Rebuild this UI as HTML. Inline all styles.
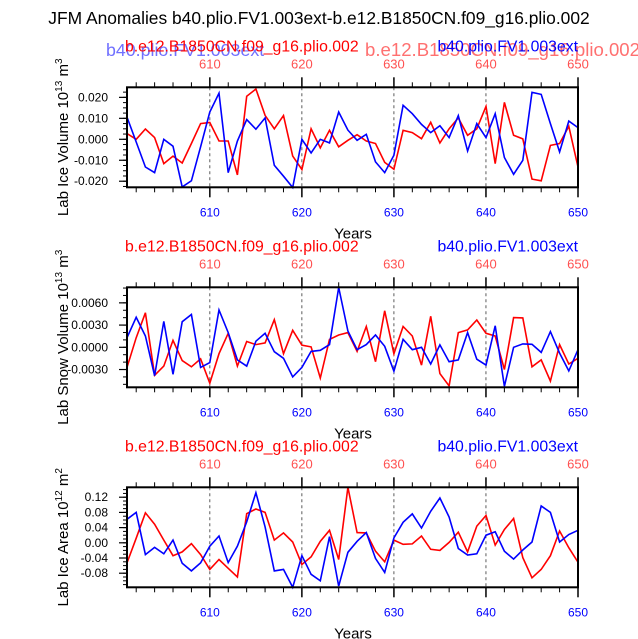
<!DOCTYPE html>
<html><head><meta charset="utf-8">
<style>
html,body{margin:0;padding:0;background:#fff;}
svg{display:block;font-family:"Liberation Sans",sans-serif;}
</style></head>
<body>
<svg id="chart" width="638" height="639" viewBox="0 0 638 639" xmlns="http://www.w3.org/2000/svg">
<text x="319" y="24" text-anchor="middle" font-size="17.4" fill="#000">JFM Anomalies b40.plio.FV1.003ext-b.e12.B1850CN.f09_g16.plio.002</text>
<text x="106" y="56" font-size="17.8" fill="#7070ff">b40.plio.FV1.003ext</text>
<text x="365" y="56" font-size="18.6" fill="#ff7070">b.e12.B1850CN.f09_g16.plio.002</text>
<g id="plots"></g>
</svg>
<script>
const years = [];
for (let y = 601; y <= 650; y++) years.push(y);

const iceVolBlue = [0.0106,-0.0013,-0.0132,-0.0159,0,-0.0033,-0.0227,-0.0198,-0.0036,0.013,0.022,-0.0159,-0.0008,0.0094,0.0048,0.0102,-0.0124,-0.0176,-0.023,0,-0.0065,0,-0.0017,0.013,0.0044,-0.0005,0.0024,-0.0108,-0.0159,-0.0076,0.0162,0.0122,0.0071,0.0032,0.0065,0.0008,0.0113,-0.0056,0.0075,0.0008,0.0122,-0.0087,-0.0167,-0.01,0.0224,0.0214,0.0075,-0.006,0.0087,0.0056];
const iceVolRed = [0.0027,0,0.0049,0.0008,-0.0116,-0.008,-0.0113,-0.002,0.0075,0.008,-0.0008,-0.0008,-0.017,0.0205,0.024,0.0114,0.005,0.0113,-0.008,-0.0144,0.005,-0.0041,0.0043,-0.0036,-0.0005,0.0022,-0.0008,-0.002,-0.011,-0.0143,0.0043,0.0032,0.0003,0.0081,-0.0017,0.005,0.0102,0.0019,0.005,0.0157,-0.0116,0.0176,0.0019,0.0002,-0.019,-0.0198,-0.0029,-0.002,0.0062,-0.0132];

const snowBlue = [1.29,4.05,1.52,-3.83,3.5,-3.64,3.46,4.43,-2.72,-2.07,5.03,1.98,-1.7,-2.54,0.83,1.89,-0.6,-1.48,-4.0,-2.72,-0.55,-0.41,0.37,8.07,2.2,-0.32,0.37,1.66,0.14,-3.23,1.06,-0.32,0,-2.26,0.32,-1.94,-1.7,1.98,-1.61,-2.4,2.9,-5.26,0,0.46,0.41,-0.69,2.12,-0.78,-3.18,-0.32].map(v=>v/1000);
const snowRed = [-2.72,1.29,4.66,-3.78,-2.54,0.93,-1.8,-2.63,-1.56,-4.84,-0.87,1.89,-2.54,0.78,0.37,0.6,3.73,-0.87,2.3,0.28,0.05,-4.15,1.06,1.66,1.98,-0.55,2.81,-1.94,4.93,-0.87,2.81,1.52,-2.4,4.19,-3.55,-5.21,1.98,2.35,3.69,1.89,1.52,-3.0,4.01,3.97,-2.63,-1.7,-4.56,0.37,-2.26,-1.48].map(v=>v/1000);

const areaBlue = [6.2,8.0,-3.1,-1.2,-2.9,0.7,-5.4,-7.4,-5.3,-0.9,1.8,-5.2,-0.9,5.5,13.2,4.2,-7.4,-7.0,-11.7,-3.4,-8.3,-10,1.6,-11.4,-2.5,0.4,2.7,-4.1,-7.8,1.3,5.4,7.6,3.9,8.3,11.8,6.8,-1.5,-3.2,-2.9,2.0,2.9,-2.2,-4.3,-1.9,0.2,9.7,8.0,0.2,2.2,3.3].map(v=>v/100);
const areaRed = [-5.3,1.2,7.9,4.9,0.7,-3.4,-2.4,-0.2,-3.1,-7.0,-4.4,-6.7,-9.0,7.7,8.9,8.0,0.7,2.6,0.2,-5.7,-3.7,0.4,3.3,-4.4,14.6,2.7,2.6,-2.2,-5.0,0.7,-0.4,-0.3,1.8,-1.7,-2.0,0.1,2.8,-2.4,4.4,7.2,-0.6,3.5,6.4,-3.9,-9.2,-7.0,-3.4,3.1,-1.3,-5.1].map(v=>v/100);

const xTicks = [610,620,630,640,650];
const ticks1 = ["0.020","0.010","0.000","-0.010","-0.020"];
const ticks2 = ["0.0060","0.0030","0.0000","-0.0030"];
const ticks3 = ["0.12","0.08","0.04","0.00","-0.04","-0.08"];

const NS = "http://www.w3.org/2000/svg";
const root = document.getElementById('plots');
function mk(tag, attrs, parent, txt) {
  const e = document.createElementNS(NS, tag);
  for (const k in attrs) e.setAttribute(k, attrs[k]);
  if (txt !== undefined) e.textContent = txt;
  (parent || root).appendChild(e);
  return e;
}
const X0 = 127, X1 = 578;
function xs(yr) { return X0 + (yr - 601) * (X1 - X0) / 49; }

const panels = [
  {top:87.3, ymin:-0.0229, ymax:0.0248, tickVals:ticks1, minor:0.0025, blue:iceVolBlue, red:iceVolRed, title:"Lab Ice Volume 10", sup:"13", unit:" m", usup:"3", name:"ice-volume"},
  {top:287.3, ymin:-0.0054, ymax:0.0081, tickVals:ticks2, minor:0.001, blue:snowBlue, red:snowRed, title:"Lab Snow Volume 10", sup:"13", unit:" m", usup:"3", name:"snow-volume"},
  {top:487.3, ymin:-0.1171, ymax:0.1461, tickVals:ticks3, minor:0.01, blue:areaBlue, red:areaRed, title:"Lab Ice Area 10", sup:"12", unit:" m", usup:"2", name:"ice-area"}
];

panels.forEach((p, pi) => {
  const T = p.top, B = p.top + 100;
  const ys = v => B - (v - p.ymin) / (p.ymax - p.ymin) * 100;
  const g = mk('g', {});
  
  
  const rl = mk('text', {x:125, y:T-36, 'font-size':15.8, fill:'#ff0000'}, g, 'b.e12.B1850CN.f09_g16.plio.002');
  
  
  const bl = mk('text', {x:X1, y:T-36, 'font-size':15.8, fill:'#0000ff', 'text-anchor':'end'}, g, 'b40.plio.FV1.003ext');
  
  
  xTicks.slice(0,4).forEach(t => {
    const l = mk('line', {x1:xs(t), x2:xs(t), y1:T, y2:B, stroke:'#333', 'stroke-width':0.8, 'stroke-dasharray':'3,3'}, g);
    
    
  });
  for (let yr = 602; yr <= 650; yr += 2) {
    const major = yr % 10 === 0;
    const len = major ? 10 : 5;
    mk('line', {x1:xs(yr), x2:xs(yr), y1:T, y2:T-len, stroke:'#000', 'stroke-width':major?1.5:1}, g);
    mk('line', {x1:xs(yr), x2:xs(yr), y1:B, y2:B+len, stroke:'#000', 'stroke-width':major?1.5:1}, g);
  }
  xTicks.forEach(t => {
    const a = mk('text', {x:xs(t), y:T-19, 'font-size':13, fill:'#ff5050', 'text-anchor':'middle'}, g, String(t));
    
    
    const b = mk('text', {x:xs(t), y:B+29, 'font-size':12, fill:'#0000ff', 'text-anchor':'middle'}, g, String(t));
    
    
  });
  const mstart = Math.ceil(p.ymin / p.minor);
  for (let k = mstart; k * p.minor <= p.ymax; k++) {
    const yy = ys(k * p.minor);
    mk('line', {x1:X0, x2:X0-4, y1:yy, y2:yy, stroke:'#000', 'stroke-width':1}, g);
  }
  p.tickVals.forEach(s => {
    const yy = ys(parseFloat(s));
    mk('line', {x1:X0, x2:X0-8, y1:yy, y2:yy, stroke:'#000', 'stroke-width':1.2}, g);
    const t = mk('text', {x:X0-19, y:yy+4, 'font-size':12, fill:'#000', 'text-anchor':'end'}, g, s);
    
    
  });
  const pts = arr => arr.map((v, i) => xs(years[i]).toFixed(1) + ',' + ys(v).toFixed(1)).join(' ');
  const rline = mk('polyline', {points:pts(p.red), fill:'none', stroke:'#ff0000', 'stroke-width':1.6}, g);
  
  
  const bline = mk('polyline', {points:pts(p.blue), fill:'none', stroke:'#0000ff', 'stroke-width':1.6}, g);
  
  
  const fr = mk('rect', {x:X0, y:T, width:X1-X0, height:100, fill:'none', stroke:'#000', 'stroke-width':2}, g);
  
  
  const xt = mk('text', {x:353, y:B+51, 'font-size':15, fill:'#000', 'text-anchor':'middle'}, g, 'Years');
  
  
  const yt = mk('text', {transform:'translate(68,' + (T+50) + ') rotate(-90)', 'font-size':15, fill:'#000', 'text-anchor':'middle'}, g);
  
  
  mk('tspan', {}, yt, p.title);
  mk('tspan', {dy:-6, 'font-size':10}, yt, p.sup);
  mk('tspan', {dy:6}, yt, p.unit);
  mk('tspan', {dy:-6, 'font-size':10}, yt, p.usup);
});
</script>
</body></html>
